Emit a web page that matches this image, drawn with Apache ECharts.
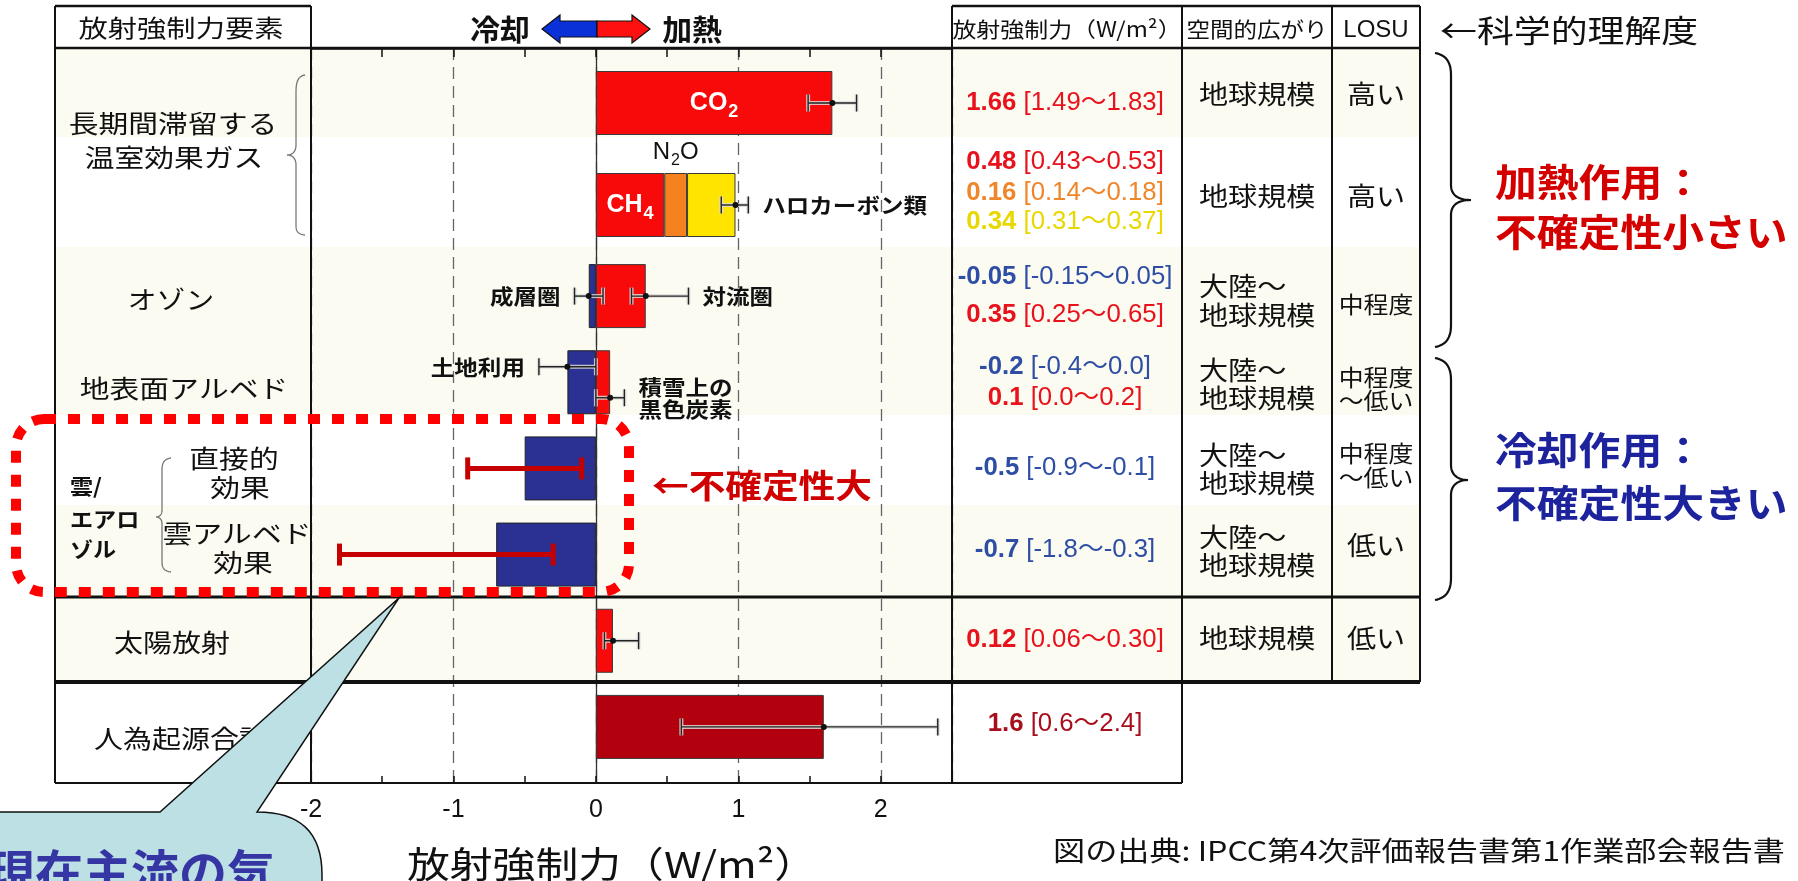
<!DOCTYPE html>
<html><head><meta charset="utf-8">
<script src="https://cdn.jsdelivr.net/npm/echarts@6/dist/echarts.min.js"></script>
<style>html,body{margin:0;padding:0;background:#fff}#c{width:1798px;height:881px}</style>
</head><body><div id="c"></div>
<script>
// ---------------- DATA ----------------
const categories = ['CO₂','CH₄・N₂O・ハロカーボン類','オゾン','地表面アルベド','直接的効果','雲アルベド効果','太陽放射','人為起源合計'];
const redValues   = [1.66, 0.48, 0.35, 0.1, null, null, 0.12, null];
const n2oValues   = [null, 0.16, null, null, null, null, null, null];
const haloValues  = [null, 0.34, null, null, null, null, null, null];
const blueValues  = [null, null, -0.05, -0.2, -0.5, -0.7, null, null];
const totalValues = [null, null, null, null, null, null, null, 1.6];
const redBarLabels = ['CO₂','CH₄','','','','','',''];
const n2oBarLabel = 'N₂O';

const errRow  = [0, 1, 2, 2, 3, 3, 6, 7];
const errLow  = [1.49, 0.88, -0.15, 0.25, -0.4, 0.0, 0.06, 0.6];
const errHigh = [1.83, 1.07, 0.05, 0.65, 0.0, 0.2, 0.30, 2.4];
const errMid  = [1.66, 0.98, -0.05, 0.35, -0.2, 0.1, 0.12, 1.6];
const errLane = [0, 0, 0, 0, -1, 1, 0, 0];
const errText = ['', 'ハロカーボン類', '成層圏', '対流圏', '土地利用', '積雪上の\n黒色炭素', '', ''];

const aeroRow  = [4, 5];
const aeroLow  = [-0.9, -1.8];
const aeroHigh = [-0.1, -0.3];
const aeroMid  = [-0.5, -0.7];

const xMin = -2, xMax = 2.5, xStep = 0.5;

const rfText = [
  ['1.66 [1.49～1.83]'],
  ['0.48 [0.43～0.53]', '0.16 [0.14～0.18]', '0.34 [0.31～0.37]'],
  ['-0.05 [-0.15～0.05]', '0.35 [0.25～0.65]'],
  ['-0.2 [-0.4～0.0]', '0.1 [0.0～0.2]'],
  ['-0.5 [-0.9～-0.1]'],
  ['-0.7 [-1.8～-0.3]'],
  ['0.12 [0.06～0.30]'],
  ['1.6 [0.6～2.4]']
];
const spatialText = ['地球規模','地球規模','大陸〜\n地球規模','大陸〜\n地球規模','大陸〜\n地球規模','大陸〜\n地球規模','地球規模',''];
const losuText = ['高い','高い','中程度','中程度\n〜低い','中程度\n〜低い','低い','低い',''];
const headerText = ['放射強制力要素','放射強制力（W/m²）','空間的広がり','LOSU'];

// ---------------- STYLE / LAYOUT ----------------
const CJK = '"Noto Sans CJK JP","Noto Sans CJK SC",sans-serif';
const LAT = '"Liberation Sans","DejaVu Sans","Noto Sans CJK JP",sans-serif';
const RED = '#f80a0a', ORANGE = '#f5821f', YELLOW = '#ffe400', BLUE = '#2a3193', TOTAL = '#b3000e';
const rfColorKey = [['r'],['r','o','y'],['b','r'],['b','r'],['b'],['b'],['r'],['d']];
const rfColors = {r:'#e8121c', o:'#f0862a', y:'#e9d800', b:'#2e4ea6', d:'#a80f1c'};
const rfY = [[103],[162,193,222],[277,315],[367,398],[468],[550],[640],[724]];
const spY = [[94],[196],[286,315],[370,398],[455,483],[537,565],[638],[]];
const losuY = [[94],[196],[304],[377,400],[453,477],[545],[638],[]];

// turn unicode subscript digits into rich-text tokens
function subRich(s) {
  return s.replace(/([^\u2080-\u2089]+)|([\u2080-\u2089]+)/g, (m, a, b) => a ? '{m|' + a + '}' :
    '{s|' + b.split('').map(c => String.fromCharCode(c.charCodeAt(0) - 0x2080 + 48)).join('') + '}');
}

function T(text, x, y, o) {
  o = o || {};
  const al = o.align || 'center';
  return {type:'text', x:x, y:y, scaleX:o.sx||1, z:o.z||40, silent:true,
    style:{text:text, fill:o.color||'#111', fontSize:o.size||24, fontFamily:o.family||CJK,
      fontWeight:o.weight||'normal', textAlign:al, align:al, textVerticalAlign:'middle', verticalAlign:'middle',
      lineHeight:o.lh, rich:o.rich}};
}
function L(x1,y1,x2,y2,w,c){ return {type:'line', z:30, silent:true, shape:{x1,y1,x2,y2}, style:{stroke:c||'#111', lineWidth:w||2}}; }
// convert a simple M/L/C path string into sampled points
function pts(d) {
  const tk = d.match(/[MLCZ]|-?\d+(\.\d+)?/g);
  const out = []; let i = 0, cmd = 'M', cx = 0, cy = 0;
  while (i < tk.length) {
    if (/[MLCZ]/.test(tk[i])) { cmd = tk[i++]; if (cmd === 'Z') continue; }
    if (cmd === 'M' || cmd === 'L') { cx = +tk[i++]; cy = +tk[i++]; out.push([cx, cy]); }
    else if (cmd === 'C') {
      const a = [+tk[i++], +tk[i++], +tk[i++], +tk[i++], +tk[i++], +tk[i++]];
      for (let s = 1; s <= 16; s++) {
        const t = s / 16, u = 1 - t;
        out.push([u*u*u*cx + 3*u*u*t*a[0] + 3*u*t*t*a[2] + t*t*t*a[4], u*u*u*cy + 3*u*u*t*a[1] + 3*u*t*t*a[3] + t*t*t*a[5]]);
      }
      cx = a[4]; cy = a[5];
    } else i++;
  }
  return out;
}
function PL(d, stroke, w){ return {type:'polyline', z:30, silent:true, shape:{points:pts(d)}, style:{stroke:stroke, lineWidth:w, fill:null}}; }

const G = [];
// background bands
[[48,89],[247,168],[505,92],[597,85]].forEach(b => G.push({type:'rect', z:-10, silent:true, shape:{x:55,y:b[0],width:1365,height:b[1]}, style:{fill:'#fbfbf1'}}));
// table lines
G.push(L(55,6,55,783,2), L(311,6,311,783,2), L(952,6,952,783,2), L(1182,6,1182,783,2), L(1332,6,1332,682,2), L(1420,6,1420,682,2));
G.push(L(55,6,311,6,2.5), L(952,6,1420,6,2.5), L(55,48,1420,48,2.5), L(55,597,1420,597,3), L(55,682,1420,682,4), L(55,783,1182,783,2));
// header texts
G.push(T(headerText[0],181,28,{size:24,sx:1.22}));
G.push(T(headerText[1],1067,29,{size:21,sx:1.14}));
G.push(T(headerText[2],1257,29,{size:21,sx:1.12}));
G.push(T(headerText[3],1376,30,{size:24,family:LAT}));
G.push(T('冷却',500,30,{size:29,weight:'bold',sx:1.03}));
G.push(T('加熱',692,30,{size:29,weight:'bold',sx:1.03}));
G.push({type:'polygon', z:40, silent:true, shape:{points:[[542,29],[560,15],[560,21],[597,21],[597,37],[560,37],[560,43]]}, style:{fill:'#0a30d8', stroke:'#111', lineWidth:1.2}});
G.push({type:'polygon', z:40, silent:true, shape:{points:[[597,21],[632,21],[632,15],[650,29],[632,43],[632,37],[597,37]]}, style:{fill:'#ff1010', stroke:'#111', lineWidth:1.2}});
// left labels
G.push(T('長期間滞留する',173,123,{size:25,sx:1.19}));
G.push(T('温室効果ガス',174,157,{size:25,sx:1.19}));
G.push(T('オゾン',171,299,{size:25,sx:1.15}));
G.push(T('地表面アルベド',184,388,{size:25,sx:1.19}));
G.push(T('雲/',70,486,{size:21,sx:1.1,weight:'bold',align:'left'}));
G.push(T('エアロ',70,519,{size:21,sx:1.1,weight:'bold',align:'left'}));
G.push(T('ゾル',70,549,{size:21,sx:1.1,weight:'bold',align:'left'}));
G.push(T('直接的',234,458,{size:25,sx:1.19}));
G.push(T('効果',240,487,{size:25,sx:1.19}));
G.push(T('雲アルベド',237,533,{size:25,sx:1.19}));
G.push(T('効果',243,562,{size:25,sx:1.19}));
G.push(T('太陽放射',172,642,{size:25,sx:1.16}));
G.push(T('人為起源合計',94,738,{size:25,sx:1.16,align:'left'}));
// braces
G.push(PL('M305,75 C298,76 296,82 296,92 L296,145 C296,152 292,155 287,155 C292,155 296,158 296,165 L296,225 C296,232 298,234 305,235','#777',1.3));
G.push(PL('M171,458 C164,459 162,463 162,470 L162,510 C162,514 160,517 156,517 C160,517 162,520 162,524 L162,562 C162,568 164,571 171,572','#777',1.3));
G.push(PL('M1435,53 C1446,55 1451,62 1451,75 L1451,185 C1451,195 1458,200 1471,200 C1458,200 1451,205 1451,215 L1451,325 C1451,338 1446,345 1435,347','#111',2.2));
G.push(PL('M1435,358 C1446,360 1451,367 1451,380 L1451,465 C1451,475 1458,480 1468,480 C1458,480 1451,485 1451,495 L1451,578 C1451,591 1446,598 1435,600','#111',2.2));
// table values
rfText.forEach((lines, r) => lines.forEach((s, k) => {
  const c = rfColors[rfColorKey[r][k]];
  const i = s.indexOf(' ');
  G.push(T('{b|' + s.slice(0,i) + '}{n| ' + s.slice(i+1) + '}', 1065, rfY[r][k], {sx:1.03, rich:{
    b:{fontSize:25, fontWeight:'bold', fontFamily:LAT, fill:c, color:c},
    n:{fontSize:25, fontWeight:'normal', fontFamily:LAT, fill:c, color:c}}}));
}));
spatialText.forEach((s, r) => { if (!s) return; s.split('\n').forEach((t, k) => G.push(T(t, 1199, spY[r][k], {size:26, sx:1.12, align:'left'}))); });
losuText.forEach((s, r) => { if (!s) return; const ls = s.split('\n'); const small = ls.length > 1 || s.length > 2;
  ls.forEach((t, k) => G.push(T(t, 1376, losuY[r][k], {size: small ? 23 : 26, sx: small ? 1.08 : 1.12}))); });
// right side annotations
G.push(T('←科学的理解度',1440,30,{size:31,sx:1.19,align:'left'}));
G.push(T('加熱作用：',1495,182,{size:38,sx:1.1,weight:'bold',color:'#d40000',align:'left'}));
G.push(T('不確定性小さい',1495,232,{size:38,sx:1.1,weight:'bold',color:'#d40000',align:'left'}));
G.push(T('冷却作用：',1495,450,{size:38,sx:1.1,weight:'bold',color:'#1d239c',align:'left'}));
G.push(T('不確定性大きい',1495,503,{size:38,sx:1.1,weight:'bold',color:'#1d239c',align:'left'}));
G.push(T('←不確定性大',652,485,{size:33,sx:1.11,weight:'bold',color:'#d00000',align:'left',z:95}));
// axis title and source
G.push(T('放射強制力（W/m²）',612,864,{size:36,sx:1.19}));
G.push(T('図の出典: IPCC第4次評価報告書第1作業部会報告書',1053,851,{size:27,sx:1.19,align:'left'}));
// dotted highlight box
G.push({type:'rect', z:90, silent:true, shape:{x:16,y:419,width:613,height:173,r:28}, style:{fill:'transparent', stroke:'#ff0000', lineWidth:10, lineDash:[12,12]}});
// callout
G.push({type:'polygon', z:100, silent:true, shape:{points:pts('M-20,812 L160,812 L399,598 L257,812 C300,812 322,832 322,875 L322,900 L-20,900')}, style:{fill:'#bde0e4', stroke:'#111', lineWidth:1.5}});
G.push(T('現在主流の気',-13,872,{size:48,weight:'bold',color:'#3535a3',align:'left',z:101}));

// ---------------- SERIES ----------------
function errRenderFactory(opt) {
  return function (params, api) {
    const cat = api.value(0), lo = api.value(1), hi = api.value(2), mid = api.value(3), lane = api.value(4), gi = api.value(5);
    const band = api.size([0, 1])[1];
    const y = api.coord([0, cat])[1] + lane * band * 0.18;
    const xl = api.coord([lo, cat])[0], xh = api.coord([hi, cat])[0], xm = api.coord([mid, cat])[0];
    const h = opt.cap / 2, ch = [];
    const seg = (a,b,c,d,st) => ({type:'line', shape:{x1:a,y1:b,x2:c,y2:d}, style:st});
    if (opt.halo) {
      const hs = {stroke:'rgba(220,220,220,0.85)', lineWidth:4};
      ch.push(seg(xl,y,xh,y,hs), seg(xl,y-h,xl,y+h,hs), seg(xh,y-h,xh,y+h,hs));
    }
    const ds = {stroke:opt.color, lineWidth:opt.width};
    ch.push(seg(xl,y,xh,y,ds), seg(xl,y-h,xl,y+h,ds), seg(xh,y-h,xh,y+h,ds));
    if (opt.dot) ch.push({type:'circle', shape:{cx:xm, cy:y, r:3}, style:{fill:'#111'}});
    const txt = opt.labels ? opt.labels[gi] : '';
    if (txt) {
      const left = mid < 0;
      ch.push({type:'text', x: left ? xl - 14 : xh + 14, y: y, scaleX:1.12,
        style:{text:txt, fill:'#111', fontSize:21, fontWeight:'bold', fontFamily:CJK, lineHeight:22,
          textAlign: left ? 'right' : 'left', align: left ? 'right' : 'left', textVerticalAlign:'middle', verticalAlign:'middle'}});
    }
    return {type:'group', children:ch};
  };
}
const normalErr = errRenderFactory({cap:17, width:1.4, color:'#222', halo:true, dot:true, labels:errText});
const aeroErr = errRenderFactory({cap:22, width:5, color:'#c50000', halo:false, dot:false, labels:null});

const gridRows = [[0, 2], [2, 8]];
const series = [];
gridRows.forEach((rg, g) => {
  const xi = 3 + g, yi = 1 + g, s0 = rg[0], s1 = rg[1];
  const common = {type:'bar', xAxisIndex:xi, yAxisIndex:yi, stack:'st' + g, barWidth:64, z:3};
  series.push(Object.assign({}, common, {name:'red', data:redValues.slice(s0, s1),
    itemStyle:{color:RED, borderColor:'#3a3a3a', borderWidth:1},
    label:{show:true, position:'inside', formatter:p => subRich(redBarLabels[s0 + p.dataIndex] || ''),
      rich:{m:{color:'#fff', fontSize:25, fontWeight:'bold', fontFamily:LAT, lineHeight:26},
            s:{color:'#fff', fontSize:18, fontWeight:'bold', fontFamily:LAT, lineHeight:6, padding:[18,0,0,1]}}}}));
  series.push(Object.assign({}, common, {name:'n2o', data:n2oValues.slice(s0, s1),
    itemStyle:{color:ORANGE, borderColor:'#3a3a3a', borderWidth:1},
    label:{show:true, position:'top', distance:8, formatter:() => subRich(n2oBarLabel),
      rich:{m:{color:'#111', fontSize:24, fontFamily:LAT, lineHeight:26},
            s:{color:'#111', fontSize:16, fontFamily:LAT, lineHeight:6, padding:[18,0,0,1]}}}}));
  series.push(Object.assign({}, common, {name:'halo', data:haloValues.slice(s0, s1), itemStyle:{color:YELLOW, borderColor:'#3a3a3a', borderWidth:1}}));
  series.push(Object.assign({}, common, {name:'blue', data:blueValues.slice(s0, s1), itemStyle:{color:BLUE, borderColor:'#222', borderWidth:1}}));
  series.push(Object.assign({}, common, {name:'total', data:totalValues.slice(s0, s1), itemStyle:{color:TOTAL, borderColor:'#3a3a3a', borderWidth:1}}));
  const errData = [];
  errRow.forEach((r, i) => { if (r >= s0 && r < s1) errData.push([r - s0, errLow[i], errHigh[i], errMid[i], errLane[i], i]); });
  series.push({type:'custom', xAxisIndex:xi, yAxisIndex:yi, renderItem:normalErr, encode:{x:[1,2,3], y:0}, data:errData, z:6, silent:true});
  const aData = [];
  aeroRow.forEach((r, i) => { if (r >= s0 && r < s1) aData.push([r - s0, aeroLow[i], aeroHigh[i], aeroMid[i], 0, i]); });
  if (aData.length) series.push({type:'custom', xAxisIndex:xi, yAxisIndex:yi, renderItem:aeroErr, encode:{x:[1,2,3], y:0}, data:aData, z:6, silent:true});
});

const hiddenX = g => ({gridIndex:g, type:'value', min:xMin, max:xMax, show:false});
const option = {
  animation:false, backgroundColor:'#fff',
  grid:[{left:311, top:48, width:641, height:735}, {left:311, top:52, width:641, height:204}, {left:311, top:253, width:641, height:517}],
  xAxis:[
    {gridIndex:0, type:'value', position:'bottom', min:xMin, max:xMax, interval:xStep,
      axisLine:{onZero:false, lineStyle:{color:'#111', width:2}}, axisTick:{inside:true, length:7, lineStyle:{color:'#111', width:1.5}},
      axisLabel:{formatter:v => Number.isInteger(v) ? String(v) : '', fontSize:25, fontFamily:LAT, color:'#111', margin:15}, splitLine:{show:false}},
    {gridIndex:0, type:'value', position:'top', min:xMin, max:xMax, interval:xStep,
      axisLine:{onZero:false, lineStyle:{color:'#111', width:2.5}}, axisTick:{inside:true, length:9, lineStyle:{color:'#111', width:1.5}},
      axisLabel:{show:false}, splitLine:{show:false}},
    {gridIndex:0, type:'value', position:'bottom', min:xMin, max:xMax, interval:1,
      axisLine:{show:false, onZero:false}, axisTick:{show:false}, axisLabel:{show:false},
      splitLine:{show:true, lineStyle:{color:'#666', width:1.3, type:[12,7]}}},
    hiddenX(1), hiddenX(2)
  ],
  yAxis:[
    {gridIndex:0, type:'value', min:0, max:1, axisLine:{show:true, onZero:true, onZeroAxisIndex:0, lineStyle:{color:'#333', width:1.3}},
      axisTick:{show:false}, axisLabel:{show:false}, splitLine:{show:false}},
    {gridIndex:1, type:'category', inverse:true, data:categories.slice(0, 2), show:false},
    {gridIndex:2, type:'category', inverse:true, data:categories.slice(2), show:false}
  ],
  series:series,
  graphic:{elements:G}
};
const chart = echarts.init(document.getElementById('c'), null, {renderer:'canvas'});
chart.setOption(option);
</script></body></html>
